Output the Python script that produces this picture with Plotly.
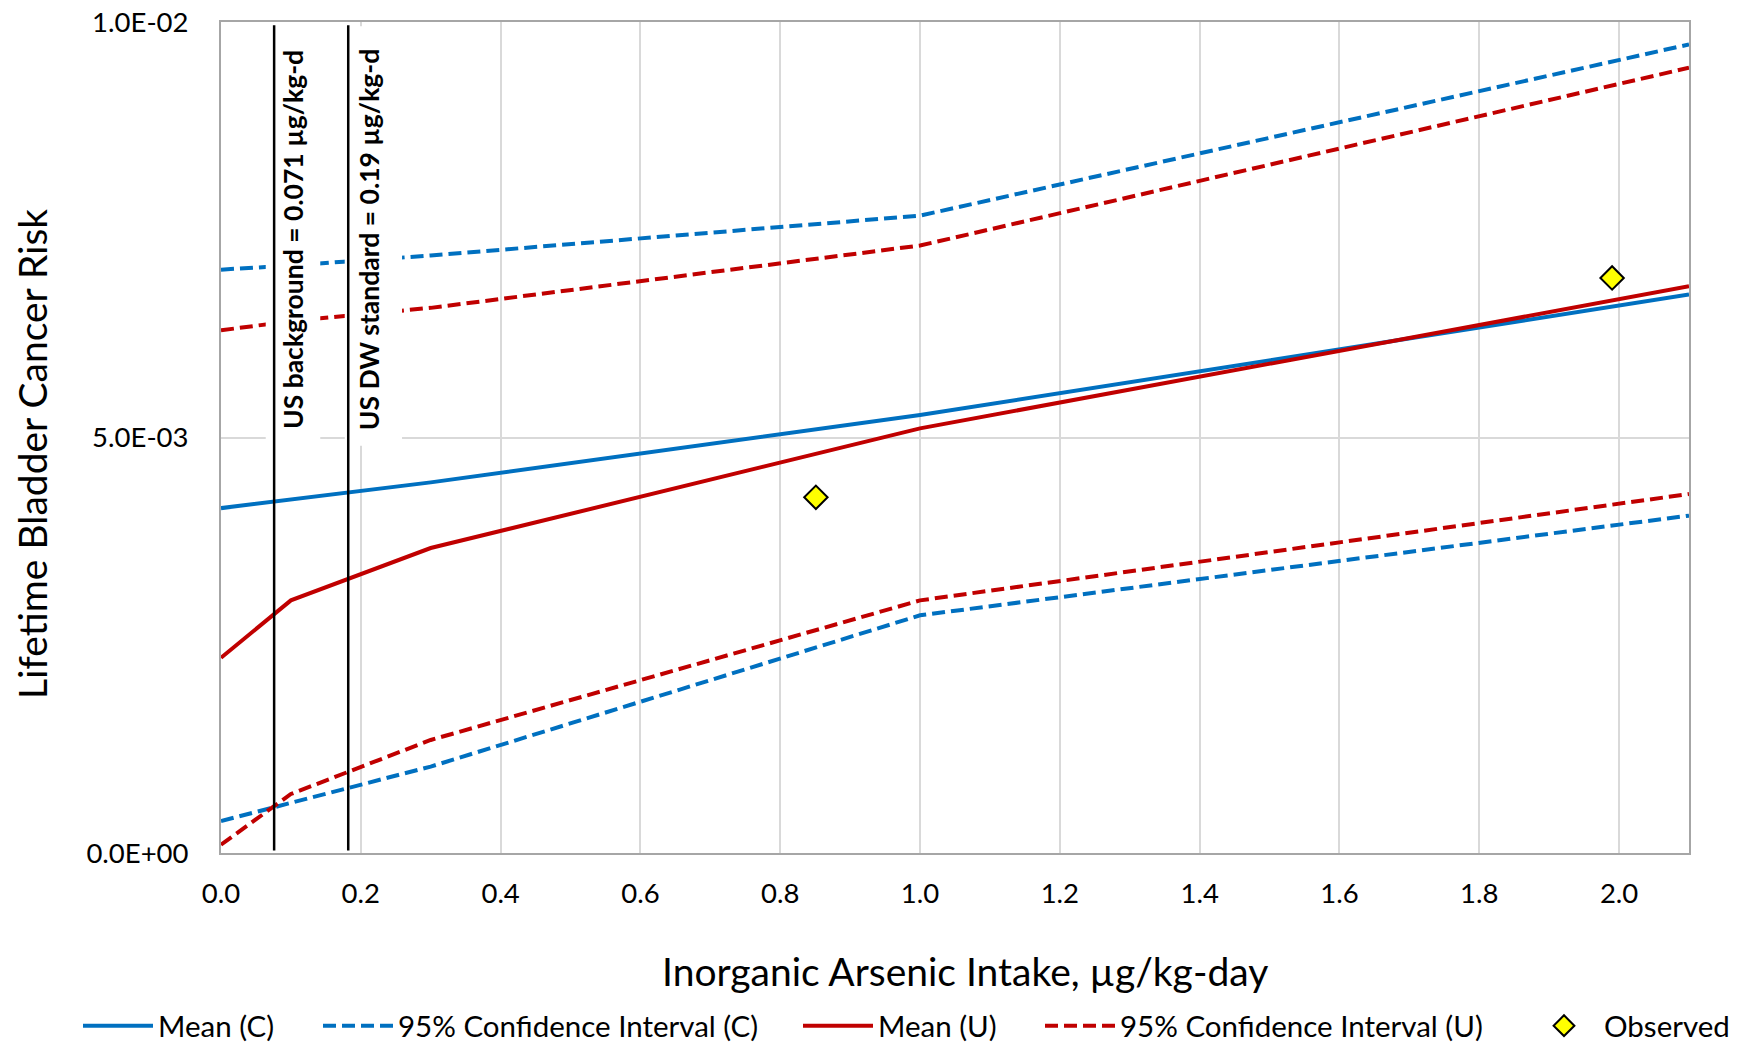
import plotly.graph_objects as go

# ---- data ----
x_pts = [0.0, 0.1, 0.3, 1.0, 2.1]
mean_c = [4.15e-3, 4.25e-3, 4.46e-3, 5.27e-3, 6.72e-3]
ci_c_upper = [7.02e-3, 7.07e-3, 7.19e-3, 7.67e-3, 9.73e-3]
ci_c_lower = [0.385e-3, 0.60e-3, 1.04e-3, 2.86e-3, 4.06e-3]
mean_u = [2.35e-3, 3.04e-3, 3.67e-3, 5.11e-3, 6.82e-3]
ci_u_upper = [6.29e-3, 6.40e-3, 6.56e-3, 7.31e-3, 9.45e-3]
ci_u_lower = [0.10e-3, 0.71e-3, 1.36e-3, 3.04e-3, 4.32e-3]
obs_x = [0.851, 1.99]
obs_y = [4.28e-3, 6.92e-3]

ref_x = [0.076, 0.182]
ref_labels = ["US background = 0.071 µg/kg-d", "US DW standard = 0.19 µg/kg-d"]

y_tickvals = [0.0, 0.005, 0.01]
y_ticktext = ["0.0E+00", "5.0E-03", "1.0E-02"]

BLUE = "#0070C0"
RED = "#C00000"
FONT = "Lato"

W, H = 1750, 1047
ML, MR, MT, MB = 221, 61, 22, 194
PW = W - ML - MR
PH = H - MT - MB


def px_to_paper_x(px):
    return (px - ML) / PW


def px_to_paper_y(py):
    return (H - MB - py) / PH


fig = go.Figure()
dash = "13px,6px"
fig.add_trace(go.Scatter(x=x_pts, y=mean_c, mode="lines", name="Mean (C)",
                         line=dict(color=BLUE, width=4), legend="legend"))
fig.add_trace(go.Scatter(x=x_pts, y=ci_c_upper, mode="lines", name="95% Confidence Interval (C)",
                         line=dict(color=BLUE, width=4, dash=dash), legend="legend2"))
fig.add_trace(go.Scatter(x=x_pts, y=ci_c_lower, mode="lines", name="95% Confidence Interval (C)",
                         line=dict(color=BLUE, width=4, dash=dash), showlegend=False))
fig.add_trace(go.Scatter(x=x_pts, y=mean_u, mode="lines", name="Mean (U)",
                         line=dict(color=RED, width=4), legend="legend3"))
fig.add_trace(go.Scatter(x=x_pts, y=ci_u_upper, mode="lines", name="95% Confidence Interval (U)",
                         line=dict(color=RED, width=4, dash=dash), legend="legend4"))
fig.add_trace(go.Scatter(x=x_pts, y=ci_u_lower, mode="lines", name="95% Confidence Interval (U)",
                         line=dict(color=RED, width=4, dash=dash), showlegend=False))
fig.add_trace(go.Scatter(x=obs_x, y=obs_y, mode="markers", name="Observed",
                         marker=dict(symbol="diamond", size=18, color="#FFFF00",
                                     line=dict(color="black", width=2)), legend="legend5"))

shapes = []
box_half = [(-0.012, 0.066), (-0.005, 0.077)]
for rx, (a, b) in zip(ref_x, box_half):
    shapes.append(dict(type="rect", xref="x", yref="paper", x0=rx + a, x1=rx + b,
                       y0=0.49, y1=0.995, fillcolor="white", line=dict(width=0), layer="above"))
for rx in ref_x:
    shapes.append(dict(type="line", xref="x", yref="paper", x0=rx, x1=rx, y0=0.003, y1=0.996,
                       line=dict(color="black", width=2.5), layer="above"))

annotations = []
for rx, lab, off in zip(ref_x, ref_labels, [0.026, 0.029]):
    annotations.append(dict(text="<b>" + lab + "</b>", x=rx + off, y=0.738, xref="x", yref="paper",
                            textangle=-90, showarrow=False, xanchor="center", yanchor="middle",
                            font=dict(family=FONT, size=26.5, color="black")))
annotations.append(dict(text="Lifetime Bladder Cancer Risk", x=px_to_paper_x(32), y=0.48,
                        xref="paper", yref="paper",
                        textangle=-90, showarrow=False, xanchor="center", yanchor="middle",
                        font=dict(family=FONT, size=39, color="black")))
annotations.append(dict(text="Inorganic Arsenic Intake, µg/kg-day", x=px_to_paper_x(965), y=-0.142,
                        xref="paper", yref="paper",
                        showarrow=False, xanchor="center", yanchor="middle",
                        font=dict(family=FONT, size=39, color="black")))

legend_style = dict(orientation="h", xanchor="left", y=px_to_paper_y(1026), yanchor="middle",
                    font=dict(family=FONT, size=29.5, color="black"), itemwidth=70,
                    bgcolor="rgba(0,0,0,0)", borderwidth=0)
legend_px = [78, 318, 798, 1040, 1524]
legends = {}
for i, lp in enumerate(legend_px):
    key = "legend" if i == 0 else f"legend{i + 1}"
    legends[key] = dict(legend_style, x=px_to_paper_x(lp))

fig.update_layout(
    width=W, height=H,
    margin=dict(l=ML, r=MR, t=MT, b=MB, autoexpand=False),
    paper_bgcolor="white", plot_bgcolor="white",
    font=dict(family=FONT, size=27, color="black"),
    shapes=shapes, annotations=annotations,
    **legends,
)
fig.update_xaxes(range=[0, 2.1], dtick=0.2, tick0=0, tickformat=".1f",
                 showgrid=True, gridcolor="#d9d9d9", gridwidth=2,
                 showline=True, linecolor="#a6a6a6", linewidth=2, mirror=True,
                 zeroline=False, ticks="", ticklabelstandoff=15,
                 tickfont=dict(family=FONT, size=27.5, color="black"))
fig.update_yaxes(range=[0, 0.01], tickvals=y_tickvals, ticktext=y_ticktext,
                 showgrid=True, gridcolor="#d9d9d9", gridwidth=2,
                 showline=True, linecolor="#a6a6a6", linewidth=2, mirror=True,
                 zeroline=False, ticks="", ticklabelstandoff=25,
                 tickfont=dict(family=FONT, size=27.5, color="black"))

fig.write_html("out.html")
